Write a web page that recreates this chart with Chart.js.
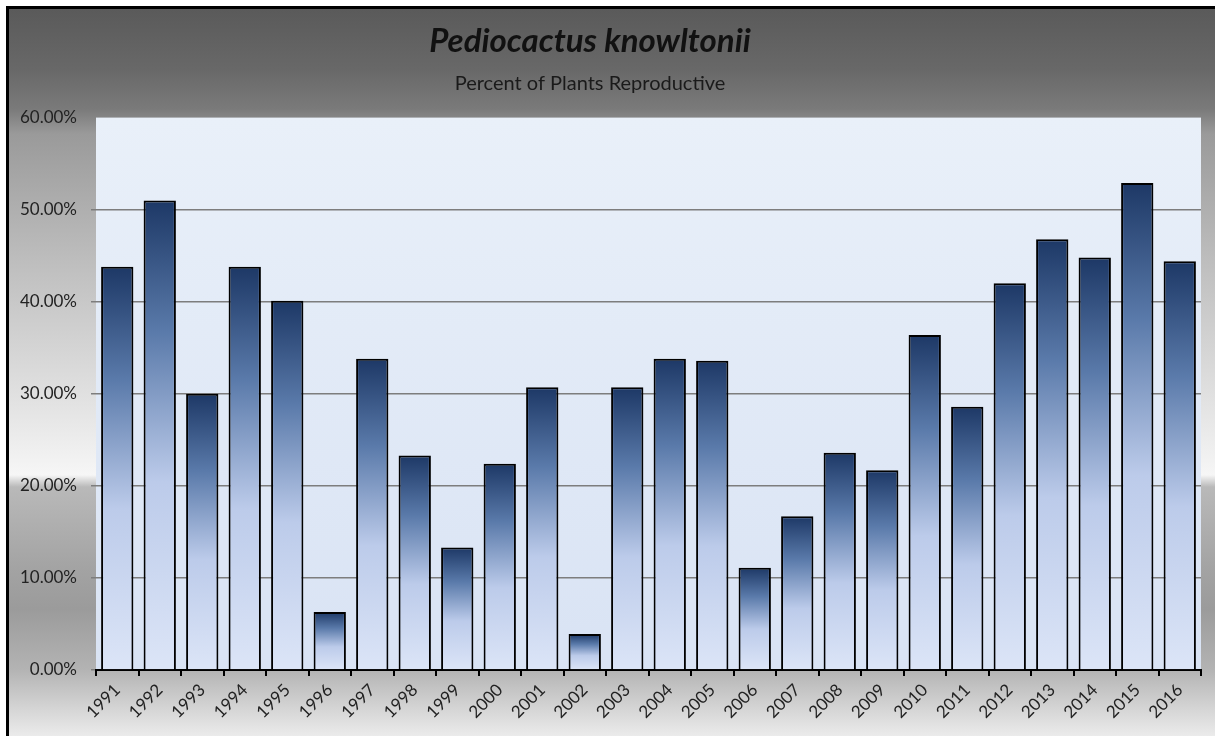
<!DOCTYPE html>
<html>
<head>
<meta charset="utf-8">
<script src="https://cdn.jsdelivr.net/npm/chart.js@4/dist/chart.umd.min.js"></script>
<style>
  html, body { margin: 0; padding: 0; background: #fff; overflow: hidden; }
  #frame {
    position: absolute; left: 6px; top: 6px; right: 0; bottom: 0;
    border-left: 3px solid #000; border-top: 3px solid #000;
    background: linear-gradient(to bottom, #5a5a5a 0px, #686868 60px, #7a7a7a 100px, #9a9a9a 125px,
      #bdbdbd 250px, #e4e4e4 400px, #f6f6f6 466px, #b9b9b9 478px, #a3a3a3 560px, #9b9b9b 600px,
      #b3b3b3 660px, #d5d5d5 700px, #ebebeb 727px);
  }
  #wrap { position: absolute; left: -21px; top: 0; width: 1236px; height: 736px; }
</style>
</head>
<body>
<div id="frame"></div>
<div id="wrap"><canvas id="bar-chart"></canvas></div>
<script>
var years = ["1991","1992","1993","1994","1995","1996","1997","1998","1999","2000","2001","2002","2003",
             "2004","2005","2006","2007","2008","2009","2010","2011","2012","2013","2014","2015","2016"];

var pctReproductive = [43.8, 51.0, 30.0, 43.8, 40.1, 6.3, 33.8, 23.3, 13.3, 22.4, 30.7, 3.9, 30.7,
                       33.8, 33.6, 11.1, 16.7, 23.6, 21.7, 36.4, 28.6, 42.0, 46.8, 44.8, 52.9, 44.4];

var yTicks = [0, 10, 20, 30, 40, 50, 60];

var fontFamily = "Lato, 'Open Sans', sans-serif";

// light blue fill behind the plot
var plotBg = {
  id: 'plotBg',
  beforeDraw: function(chart) {
    var a = chart.chartArea;
    if (!a) return;
    var c = chart.ctx;
    var g = c.createLinearGradient(0, a.top, 0, a.bottom);
    g.addColorStop(0, '#e9f0f9');
    g.addColorStop(1, '#d9e3f4');
    c.save();
    c.fillStyle = g;
    c.fillRect(a.left, a.top, a.right - a.left, a.bottom - a.top);
    c.restore();
  }
};

function barFill(context) {
  var chart = context.chart;
  if (!chart.chartArea) return '#4a6a9a';
  var y = chart.scales.y;
  var top = y.getPixelForValue(context.raw);
  var bottom = y.getPixelForValue(0);
  var g = chart.ctx.createLinearGradient(0, top, 0, bottom);
  g.addColorStop(0, '#1d3866');
  g.addColorStop(0.28, '#5a7aaa');
  g.addColorStop(0.6, '#bccbea');
  g.addColorStop(1, '#dce5f7');
  return g;
}

new Chart(document.getElementById("bar-chart"), {
  type: 'bar',
  data: {
    labels: years,
    datasets: [{
      label: 'Percent of Plants Reproductive',
      data: pctReproductive,
      backgroundColor: barFill,
      borderColor: '#000',
      borderWidth: 2,
      borderSkipped: 'bottom',
      categoryPercentage: 1.0,
      barPercentage: 0.76
    }]
  },
  plugins: [plotBg],
  options: {
    responsive: true,
    maintainAspectRatio: false,
    animation: false,
    layout: { padding: { left: 0, right: 14, top: 0, bottom: 0 } },
    plugins: {
      legend: { display: false },
      tooltip: { enabled: false },
      title: {
        display: true,
        text: 'Pediocactus knowltonii',
        color: '#111',
        font: { family: fontFamily, size: 33, style: 'italic', weight: 'bold' },
        padding: { top: 22, bottom: 10 }
      },
      subtitle: {
        display: true,
        text: 'Percent of Plants Reproductive',
        color: '#1a1a1a',
        font: { family: fontFamily, size: 20 },
        padding: { top: 0, bottom: 22 }
      }
    },
    scales: {
      x: {
        afterFit: function(scale) { scale.height = 66; },
        grid: {
          drawOnChartArea: false,
          drawTicks: true,
          tickLength: 6,
          color: '#000',
          lineWidth: 2
        },
        border: { display: true, color: '#000', width: 2 },
        ticks: {
          color: '#222',
          font: { family: fontFamily, size: 17 },
          minRotation: 45,
          maxRotation: 45,
          padding: 4
        }
      },
      y: {
        min: 0,
        max: 60,
        afterFit: function(scale) { scale.width = 117; },
        afterBuildTicks: function(scale) {
          scale.ticks = yTicks.map(function(v) { return { value: v }; });
        },
        grid: {
          color: function(ctx) { return ctx.tick && ctx.tick.value === 60 ? 'rgba(0,0,0,0)' : '#7d7d7d'; },
          lineWidth: 1.5,
          tickLength: 5
        },
        border: { display: false },
        ticks: {
          color: '#222',
          font: { family: fontFamily, size: 17 },
          padding: 14,
          callback: function(v) { return v.toFixed(2) + '%'; }
        }
      }
    }
  }
});
</script>
</body>
</html>
